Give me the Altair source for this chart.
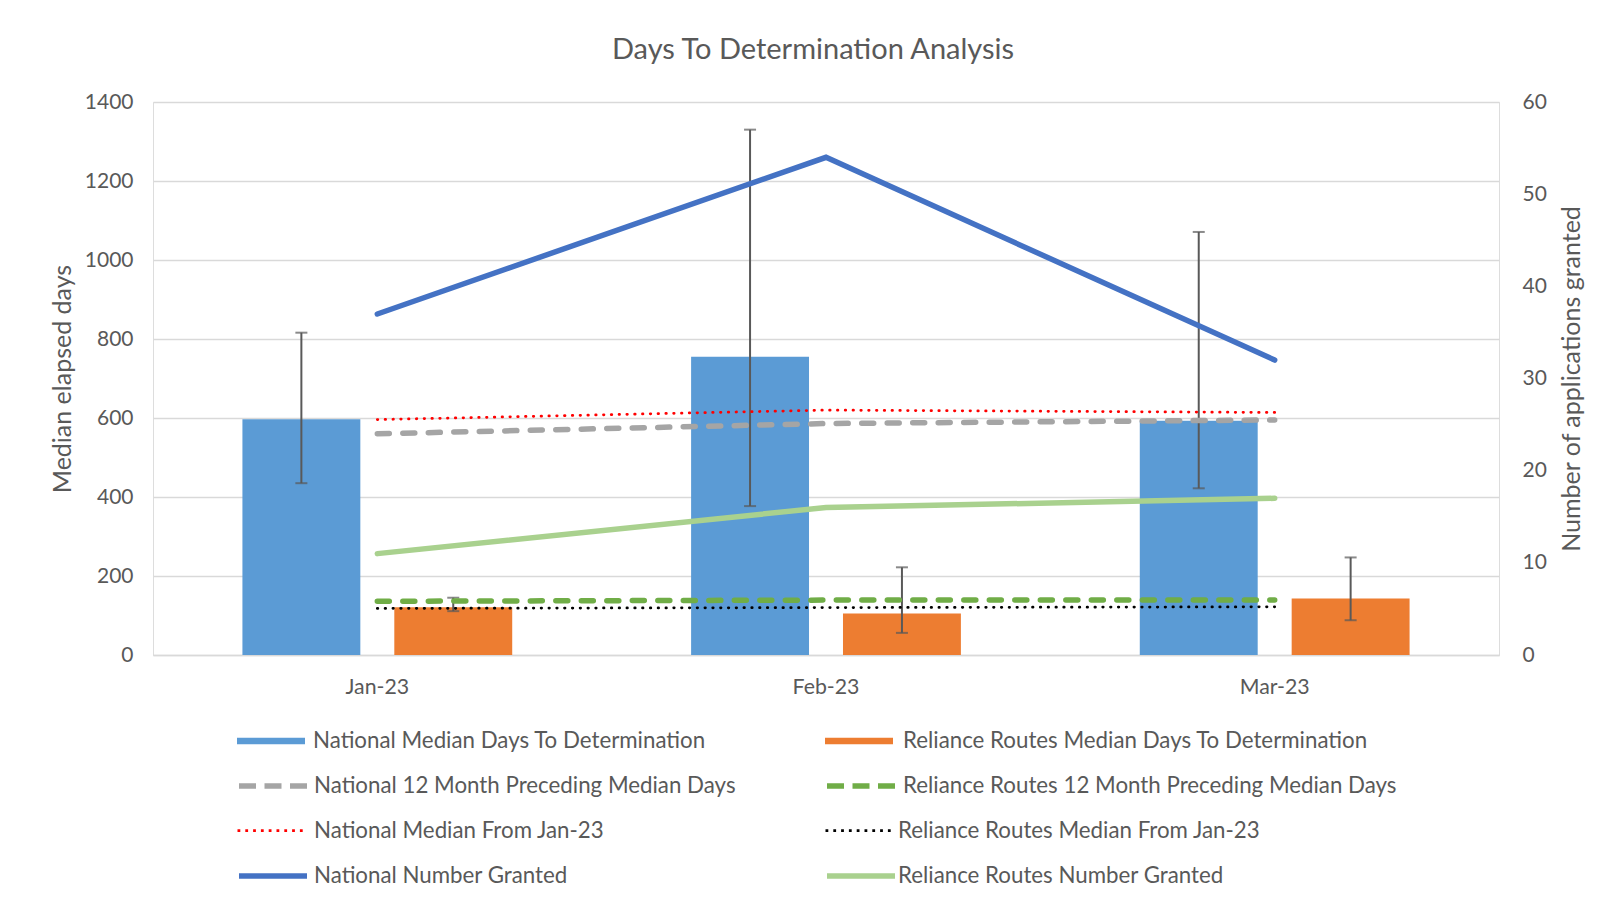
import altair as alt
import pandas as pd

# ---------------- data ----------------
months = ["Jan-23", "Feb-23", "Mar-23"]

national_median = [597, 755, 593]
national_err_low = [435, 377, 422]
national_err_high = [816, 1330, 1071]

reliance_median = [121, 105, 143]
reliance_err_low = [111, 56, 88]
reliance_err_high = [145, 222, 247]

national_12m = [560, 586, 595]
reliance_12m = [136, 139, 139]
national_from_jan = [596, 620, 614]
reliance_from_jan = [118, 120, 122]

national_granted = [37, 54, 32]
reliance_granted = [11, 16, 17]

S_NAT_BAR = "National Median Days To Determination"
S_REL_BAR = "Reliance Routes Median Days To Determination"
S_NAT_12 = "National 12 Month Preceding Median Days"
S_REL_12 = "Reliance Routes 12 Month Preceding Median Days"
S_NAT_JAN = "National Median From Jan-23"
S_REL_JAN = "Reliance Routes Median From Jan-23"
S_NAT_GR = "National Number Granted"
S_REL_GR = "Reliance Routes Number Granted"

# ---------------- styling ----------------
FONT = "Lato"
TXT = "#595959"
W, H = 1346, 553

x_enc = alt.X(
    "month:N", sort=months, title=None,
    scale=alt.Scale(paddingInner=0.3987, paddingOuter=0.1993),
    axis=alt.Axis(labelAngle=0, ticks=False, domain=True, domainColor="#d9d9d9",
                  domainWidth=1.3, labelPadding=21, labelFontSize=21.3,
                  labelColor=TXT, labelFont=FONT, grid=False),
)
xoff = alt.XOffset("series:N", sort=[S_NAT_BAR, S_REL_BAR],
                   scale=alt.Scale(paddingInner=0.2237, paddingOuter=0))

left_axis = alt.Axis(values=list(range(0, 1401, 200)), format="d", grid=True,
                     gridColor="#d9d9d9", gridWidth=1.3, ticks=False, domain=False,
                     labelPadding=20, labelFontSize=21, labelColor=TXT, labelFont=FONT,
                     title="Median elapsed days", titleFontSize=25, titleColor=TXT,
                     titleFont=FONT, titleFontWeight="normal", titleAngle=270,
                     titleX=-91, titleY=H / 2, titleAlign="center", titleBaseline="middle")
left_scale = alt.Scale(domain=[0, 1400], nice=False)

right_axis = alt.Axis(orient="right", values=list(range(0, 61, 10)), format="d",
                      grid=False, ticks=False, domain=False, labelPadding=23,
                      labelFontSize=21, labelColor=TXT, labelFont=FONT,
                      title="Number of applications granted", titleFontSize=25,
                      titleColor=TXT, titleFont=FONT, titleFontWeight="normal",
                      titleAngle=270, titleX=72, titleY=H / 2, titleAlign="center",
                      titleBaseline="middle")
right_scale = alt.Scale(domain=[0, 60], nice=False)

COL1, COL2 = 83, 671
ROWS = [604, 647, 693, 737]
# label offsets per (column, row)
OFFSETS = {(COL1, 0): 7, (COL1, 1): 4, (COL1, 2): 7, (COL1, 3): 4,
           (COL2, 0): 9, (COL2, 1): 5, (COL2, 2): 3, (COL2, 3): 0}
BAR_SYM = "M-1,-0.095H1V0.095H-1Z"


def legend(col, row, symbol_type, dash=None, stroke_width=None):
    kw = dict(orient="none", legendX=col, legendY=ROWS[row], title=None,
              symbolType=symbol_type, symbolSize=68 * 68, labelFont=FONT,
              labelFontSize=22.3, labelColor=TXT,
              labelOffset=OFFSETS[(col, row)], padding=0, labelLimit=1000)
    if dash is not None:
        kw["symbolDash"] = dash
    if stroke_width is not None:
        kw["symbolStrokeWidth"] = stroke_width
    return alt.Legend(**kw)


def frame(series, months_, values, lo=None, hi=None):
    d = {"month": months_, "series": [series] * len(months_), "value": values}
    if lo is not None:
        d["lo"] = lo
        d["hi"] = hi
    return pd.DataFrame(d)


nat_df = frame(S_NAT_BAR, months, national_median, national_err_low, national_err_high)
rel_df = frame(S_REL_BAR, months, reliance_median, reliance_err_low, reliance_err_high)
err_df = pd.concat([nat_df, rel_df], ignore_index=True)

y_left = alt.Y("value:Q", scale=left_scale, axis=left_axis)


def bar_layer(df, name, colr, col):
    return alt.Chart(df).mark_bar().encode(
        x=x_enc, xOffset=xoff, y=y_left,
        color=alt.Color("series:N", scale=alt.Scale(domain=[name], range=[colr]),
                        legend=legend(col, 0, BAR_SYM)),
    )


bars_nat = bar_layer(nat_df, S_NAT_BAR, "#5b9bd5", COL1)
bars_rel = bar_layer(rel_df, S_REL_BAR, "#ed7d31", COL2)

ERR = "#595959"
err_rule = alt.Chart(err_df).mark_rule(color=ERR, strokeWidth=2).encode(
    x=x_enc, xOffset=xoff, y=alt.Y("lo:Q", scale=left_scale, axis=left_axis), y2="hi:Q")
err_lo = alt.Chart(err_df).mark_tick(color=ERR, size=12, thickness=2).encode(
    x=x_enc, xOffset=xoff, y=alt.Y("lo:Q", scale=left_scale, axis=left_axis))
err_hi = alt.Chart(err_df).mark_tick(color=ERR, size=12, thickness=2).encode(
    x=x_enc, xOffset=xoff, y=alt.Y("hi:Q", scale=left_scale, axis=left_axis))


def line_layer(values, name, colr, col, row, width, dash, cap, leg_dash, y_enc):
    mk = dict(strokeWidth=width, strokeCap=cap)
    if dash is not None:
        mk["strokeDash"] = dash
    return alt.Chart(frame(name, months, values)).mark_line(**mk).encode(
        x=x_enc, y=y_enc,
        color=alt.Color("series:N", scale=alt.Scale(domain=[name], range=[colr]),
                        legend=legend(col, row, "stroke", leg_dash, width)),
    )


l_nat12 = line_layer(national_12m, S_NAT_12, "#a5a5a5", COL1, 1, 5.5, [12, 13.5], "round", [17, 8.5], y_left)
l_rel12 = line_layer(reliance_12m, S_REL_12, "#70ad47", COL2, 1, 5.5, [12, 13.5], "round", [17, 8.5], y_left)
l_natjan = line_layer(national_from_jan, S_NAT_JAN, "#ff0000", COL1, 2, 2.75, [0.5, 7.3], "round", [2.8, 5], y_left)
l_reljan = line_layer(reliance_from_jan, S_REL_JAN, "#000000", COL2, 2, 2.75, [0.5, 7.3], "round", [2.8, 5], y_left)

y_right = alt.Y("value:Q", scale=right_scale, axis=right_axis)
l_natgr = line_layer(national_granted, S_NAT_GR, "#4472c4", COL1, 3, 5.5, None, "round", None, y_right)
l_relgr = line_layer(reliance_granted, S_REL_GR, "#a9d18e", COL2, 3, 5.5, None, "round", None, y_right)

left = alt.layer(bars_nat, bars_rel, err_rule, err_lo, err_hi,
                 l_nat12, l_rel12, l_natjan, l_reljan).resolve_scale(
    color="independent").resolve_legend(color="independent")
right = alt.layer(l_natgr, l_relgr).resolve_scale(
    color="independent").resolve_legend(color="independent")

chart = alt.layer(left, right).resolve_scale(
    y="independent", color="independent"
).resolve_legend(color="independent").properties(
    width=W, height=H,
    title=alt.TitleParams("Days To Determination Analysis", fontSize=29, color=TXT,
                          font=FONT, fontWeight="normal", anchor="middle",
                          frame="group", offset=12, baseline="middle", dx=-13),
    autosize=alt.AutoSizeParams(type="none"),
    padding={"left": 145, "top": 94, "right": 97, "bottom": 241},
).configure_view(stroke=None).configure(font=FONT)

chart.save("out.html", embed_options={"renderer": "svg", "actions": False})
